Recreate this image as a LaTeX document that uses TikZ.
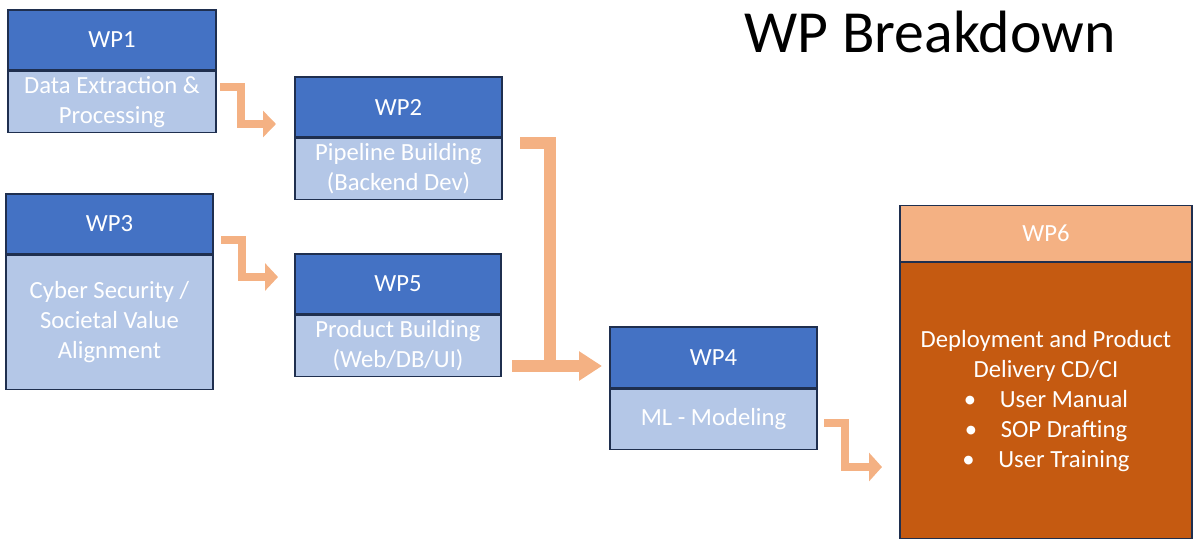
\documentclass[tikz,border=0pt]{standalone}
\usepackage{fontspec}
\setmainfont{Carlito}
\usetikzlibrary{arrows.meta,calc}
\definecolor{hdrblue}{HTML}{4472C4}
\definecolor{bodyblue}{HTML}{B4C7E7}
\definecolor{edge}{HTML}{1F2F4F}
\definecolor{lightorange}{HTML}{F4B183}
\definecolor{darkorange}{HTML}{C55A11}
\def\px{0.75pt}
\tikzset{
  box/.style={rectangle, draw=edge, line width=1.1*\px, inner sep=0pt, text=white,
    font=\fontsize{18.5}{22.5}\selectfont, align=center},
  hdr/.style={box, fill=hdrblue},
  bdy/.style={box, fill=bodyblue},
  hdr6/.style={box, fill=lightorange},
  bdy6/.style={box, fill=darkorange},
  flow/.style={draw=lightorange, line width=8*\px, line join=miter},
  bigflow/.style={draw=lightorange, line width=12.5*\px, line join=miter},
}
\begin{document}
\begin{tikzpicture}[x=0.75pt,y=-0.75pt]
\useasboundingbox (0,0) rectangle (1196,543);
% title
\node[anchor=base, font=\fontsize{44.8}{52}\selectfont, inner sep=0pt] (title) at (930,52) {WP Breakdown};
% WP1
\node[hdr, minimum width=208*\px, minimum height=60*\px] (wp1h) at (112,40) {WP1};
\node[bdy, minimum width=208*\px, minimum height=61*\px, anchor=north] (wp1b) at (wp1h.south) {Data Extraction \&\\Processing};
% WP2
\node[hdr, minimum width=207*\px, minimum height=60*\px] (wp2h) at (398.5,107) {WP2};
\node[bdy, minimum width=207*\px, minimum height=61*\px, anchor=north] (wp2b) at (wp2h.south) {Pipeline Building\\(Backend Dev)};
% WP3
\node[hdr, minimum width=207*\px, minimum height=60*\px] (wp3h) at (109.5,224) {WP3};
\node[bdy, minimum width=207*\px, minimum height=134*\px, anchor=north] (wp3b) at (wp3h.south) {Cyber Security /\\Societal Value\\Alignment};
% WP5
\node[hdr, minimum width=206*\px, minimum height=60*\px] (wp5h) at (398,284) {WP5};
\node[bdy, minimum width=206*\px, minimum height=61*\px, anchor=north] (wp5b) at (wp5h.south) {Product Building\\(Web/DB/UI)};
% WP4
\node[hdr, minimum width=207*\px, minimum height=61*\px] (wp4h) at (713.5,357.5) {WP4};
\node[bdy, minimum width=207*\px, minimum height=60*\px, anchor=north] (wp4b) at (wp4h.south) {ML - Modeling};
% WP6
\node[hdr6, minimum width=292*\px, minimum height=56*\px] (wp6h) at (1046,233.5) {WP6};
\node[bdy6, minimum width=292*\px, minimum height=276*\px, anchor=north] (wp6b) at (wp6h.south)
  {Deployment and Product\\Delivery CD/CI\\
   \makebox[27pt][l]{\textbullet}User Manual\\
   \makebox[27pt][l]{\textbullet}SOP Drafting\\
   \makebox[27pt][l]{\textbullet}User Training};
% arrow coordinates
\coordinate (a1s) at (220,87);
\coordinate (a1e) at (276,124);
\coordinate (a2s) at (221,240);
\coordinate (a2e) at (278,277);
\coordinate (a3s) at (520,143);
\coordinate (a3j) at (550,366);
\coordinate (a3b) at (512,366);
\coordinate (a3e) at (602,366);
\coordinate (a4s) at (824,423);
\coordinate (a4e) at (882,467);
% arrows
\draw[flow, -{Triangle[length=13*\px, width=26*\px]}] (a1s) -- (a1s -| 241,0) -- (a1e -| 241,0) -- (a1e);
\draw[flow, -{Triangle[length=13*\px, width=27*\px]}] (a2s) -- (a2s -| 242,0) -- (a2e -| 242,0) -- (a2e);
\draw[bigflow] (a3s) -- (a3s -| a3j) -- ($(a3j)+(0,-6)$);
\draw[bigflow, -{Triangle[length=23*\px, width=28*\px]}] (a3b) -- (a3e);
\draw[flow, -{Triangle[length=13*\px, width=28*\px]}] (a4s) -- (a4s -| 845,0) -- (a4e -| 845,0) -- (a4e);
\end{tikzpicture}
\end{document}
